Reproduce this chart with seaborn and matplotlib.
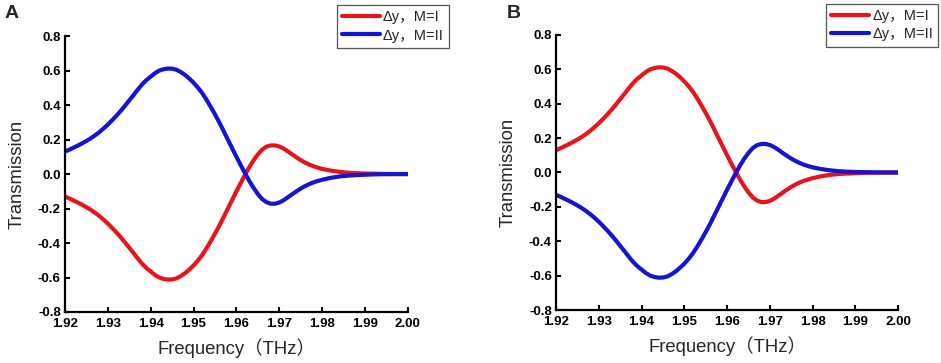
import numpy as np
import pandas as pd
import seaborn as sns
import matplotlib.pyplot as plt

# frequency grid (THz), finer where the curves bend
freq = [1.920, 1.921, 1.922, 1.923, 1.924, 1.925, 1.926, 1.927, 1.928, 1.929,
        1.930, 1.931, 1.932, 1.933, 1.934, 1.935,
        1.936, 1.937, 1.938, 1.939, 1.940, 1.941, 1.942, 1.943, 1.944, 1.945,
        1.946, 1.947, 1.948, 1.949, 1.950, 1.951, 1.952, 1.953, 1.954, 1.955,
        1.956, 1.957, 1.958, 1.959, 1.960, 1.961, 1.962, 1.963, 1.964, 1.965,
        1.966, 1.967, 1.968, 1.969, 1.970, 1.971, 1.972, 1.973, 1.974, 1.975,
        1.976, 1.977, 1.978, 1.979, 1.980, 1.982, 1.984, 1.986, 1.988, 1.990,
        1.992, 1.994, 1.996, 1.998, 2.000]

# mode I in panel A (negative lobe)
dy_m1 = [-0.13, -0.141, -0.153, -0.165, -0.178, -0.192, -0.207, -0.224, -0.243, -0.264,
         -0.287, -0.312, -0.338, -0.366, -0.396, -0.427,
         -0.458, -0.49, -0.52, -0.545, -0.565, -0.585, -0.60, -0.608, -0.612, -0.611,
         -0.605, -0.592, -0.575, -0.554, -0.53, -0.502, -0.47, -0.432, -0.39, -0.346,
         -0.30, -0.25, -0.20, -0.15, -0.10, -0.052, -0.005, 0.04, 0.08, 0.114,
         0.142, 0.159, 0.166, 0.166, 0.160, 0.148, 0.132, 0.114, 0.097, 0.081,
         0.067, 0.055, 0.045, 0.037, 0.030, 0.020, 0.013, 0.008, 0.005, 0.003,
         0.002, 0.001, 0.0, 0.0, 0.0]

# mode II in panel A (positive lobe)
dy_m2 = [0.13, 0.141, 0.153, 0.165, 0.178, 0.192, 0.207, 0.224, 0.243, 0.264,
         0.287, 0.312, 0.338, 0.366, 0.396, 0.427,
         0.458, 0.49, 0.52, 0.545, 0.565, 0.585, 0.60, 0.608, 0.612, 0.611,
         0.605, 0.592, 0.575, 0.554, 0.53, 0.502, 0.47, 0.432, 0.39, 0.346,
         0.30, 0.25, 0.20, 0.15, 0.10, 0.052, 0.005, -0.04, -0.08, -0.116,
         -0.145, -0.163, -0.172, -0.172, -0.165, -0.152, -0.135, -0.117, -0.10, -0.084,
         -0.07, -0.058, -0.048, -0.040, -0.033, -0.022, -0.014, -0.009, -0.006, -0.004,
         -0.002, -0.001, 0.0, 0.0, 0.0]

xticks = [1.92, 1.93, 1.94, 1.95, 1.96, 1.97, 1.98, 1.99, 2.00]
yticks = [-0.8, -0.6, -0.4, -0.2, 0.0, 0.2, 0.4, 0.6, 0.8]
labels = ['Δy，M=I', 'Δy，M=II']

sns.set_style('ticks')
plt.rcParams['font.family'] = ['Liberation Sans', 'Noto Sans CJK SC', 'DejaVu Sans']
plt.rcParams['axes.unicode_minus'] = False

red = '#e8141c'
blue = '#1414d2'

fig = plt.figure(figsize=(9.41, 3.63), dpi=100)
axA = fig.add_axes([0.069, 0.1405, 0.3645, 0.760])
axB = fig.add_axes([0.591, 0.146, 0.3634, 0.7576])

panels = [
    (axA, dy_m1, dy_m2, 'A', 0.005, (0.477, 0.986)),
    (axB, dy_m2, dy_m1, 'B', 0.538, (0.997, 0.989)),
]

for ax, red_vals, blue_vals, letter, lx, leg_pos in panels:
    sns.lineplot(x=freq, y=red_vals, color=red, linewidth=3.0, ax=ax, label=labels[0],
                 solid_joinstyle='round', solid_capstyle='round')
    sns.lineplot(x=freq, y=blue_vals, color=blue, linewidth=3.0, ax=ax, label=labels[1],
                 solid_joinstyle='round', solid_capstyle='round')
    ax.set_xlim(1.92, 2.00)
    ax.set_ylim(-0.8, 0.8)
    ax.set_xticks(xticks)
    ax.set_xticklabels(['%.2f' % t for t in xticks], fontweight='bold', fontsize=9.5)
    ax.set_yticks(yticks)
    ax.set_yticklabels(['%.1f' % t for t in yticks], fontweight='bold', fontsize=9.5)
    ax.tick_params(direction='in', length=3.5, width=1.5, colors='black')
    ax.tick_params(axis='x', pad=4)
    ax.tick_params(axis='y', pad=3)
    for s in ['left', 'bottom']:
        ax.spines[s].set_linewidth(1.6)
        ax.spines[s].set_color('black')
    sns.despine(ax=ax)
    ax.set_xlabel('Frequency（THz）', fontsize=13.3, labelpad=6)
    ax.set_ylabel('Transmission', fontsize=13.3, labelpad=9)
    leg = ax.legend(loc='upper right', bbox_to_anchor=leg_pos, bbox_transform=fig.transFigure,
                    borderaxespad=0, fancybox=False, framealpha=1, edgecolor='#555555',
                    fontsize=10.5, handlelength=2.6, handletextpad=0.2, borderpad=0.35,
                    labelspacing=0.3)
    leg.get_frame().set_linewidth(0.9)
    fig.text(lx, 0.985, letter, fontsize=14, fontweight='bold', va='top', ha='left')

fig.savefig('out.png', dpi=100)
